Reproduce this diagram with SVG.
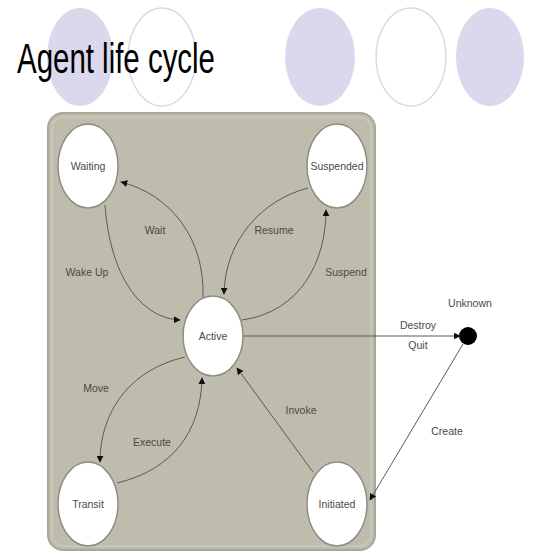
<svg xmlns="http://www.w3.org/2000/svg" width="533" height="558" viewBox="0 0 533 558">
<style>
.deco-f{fill:#d9d8ec;stroke:none}
.deco-o{fill:#ffffff;stroke:#d9d8ec;stroke-width:1.5}
.node{fill:#ffffff;stroke:#8e8d82;stroke-width:1.5}
.lbl{font-family:"Liberation Sans",Arial,sans-serif;font-size:10.5px;fill:#4a4a4a;text-anchor:middle}
.edge{fill:none;stroke:#5a5a55;stroke-width:1}
</style>
<defs>
<marker id="arr" viewBox="0 0 10 10" refX="9" refY="5" markerWidth="7" markerHeight="7" orient="auto" markerUnits="userSpaceOnUse">
<path d="M0,0 L10,5 L0,10 z" fill="#111"/>
</marker>
</defs>
<rect width="533" height="558" fill="#ffffff"/>
<g id="decoration">
<ellipse class="deco-f" cx="80" cy="57" rx="33" ry="49"/>
<ellipse class="deco-o" cx="162" cy="57" rx="34" ry="49"/>
<ellipse class="deco-f" cx="320" cy="57" rx="35" ry="49"/>
<ellipse class="deco-o" cx="411" cy="57" rx="35" ry="49"/>
<ellipse class="deco-f" cx="490" cy="57" rx="34" ry="49"/>
</g>
<text x="17" y="73" font-family="Liberation Sans, Arial, sans-serif" font-size="42" fill="#000" textLength="198" lengthAdjust="spacingAndGlyphs">Agent life cycle</text>
<g id="panel">
<rect x="48" y="113" width="327" height="437" rx="15" ry="15" fill="#bdbcad" stroke="#a8a798" stroke-width="2"/>
<rect x="52" y="117" width="319" height="429" rx="12" ry="12" fill="none" stroke="#c8c7ba" stroke-width="2"/>
</g>
<g id="connectors">
<path class="edge" d="M203,297 C205,240 172,195 121,182" marker-end="url(#arr)"/>
<path class="edge" d="M105,205 C110,275 140,318 180,320" marker-end="url(#arr)"/>
<path class="edge" d="M308,188 C262,200 225,240 224,294" marker-end="url(#arr)"/>
<path class="edge" d="M242,320 C300,312 326,262 326,210" marker-end="url(#arr)"/>
<path class="edge" d="M185,357 C122,372 100,420 100,462" marker-end="url(#arr)"/>
<path class="edge" d="M117,483 C172,470 201,432 202,378" marker-end="url(#arr)"/>
<path class="edge" d="M313,472 L237,368" marker-end="url(#arr)"/>
<path class="edge" d="M243,336 L460,336" stroke="#888" stroke-width="1.5" marker-end="url(#arr)"/>
<path class="edge" d="M463,344 L370,500" marker-end="url(#arr)"/>
<text class="lbl" x="155" y="234">Wait</text>
<text class="lbl" x="87" y="276">Wake Up</text>
<text class="lbl" x="274" y="234">Resume</text>
<text class="lbl" x="346" y="276">Suspend</text>
<text class="lbl" x="96" y="392">Move</text>
<text class="lbl" x="152" y="446">Execute</text>
<text class="lbl" x="301" y="414">Invoke</text>
<text class="lbl" x="418" y="329">Destroy</text>
<text class="lbl" x="418" y="349">Quit</text>
<text class="lbl" x="447" y="435">Create</text>
</g>
<g id="node-waiting">
<ellipse class="node" cx="88" cy="166" rx="30" ry="42"/>
<text class="lbl" x="88" y="170">Waiting</text>
</g>
<g id="node-suspended">
<ellipse class="node" cx="337" cy="166" rx="30" ry="42"/>
<text class="lbl" x="337" y="170">Suspended</text>
</g>
<g id="node-active">
<ellipse class="node" cx="213" cy="336" rx="30" ry="40"/>
<text class="lbl" x="213" y="340">Active</text>
</g>
<g id="node-transit">
<ellipse class="node" cx="88" cy="504" rx="30" ry="42"/>
<text class="lbl" x="88" y="508">Transit</text>
</g>
<g id="node-initiated">
<ellipse class="node" cx="337" cy="504" rx="30" ry="42"/>
<text class="lbl" x="337" y="508">Initiated</text>
</g>
<g id="node-unknown">
<circle cx="468" cy="336" r="9" fill="#000"/>
<text class="lbl" x="470" y="307">Unknown</text>
</g>
</svg>
